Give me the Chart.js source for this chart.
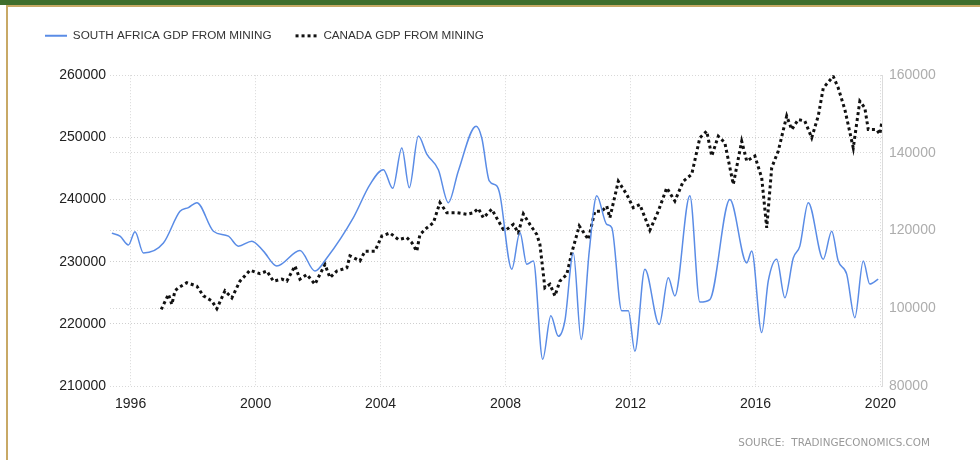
<!DOCTYPE html>
<html>
<head>
<meta charset="utf-8">
<script src="https://cdn.jsdelivr.net/npm/chart.js@4.4.0/dist/chart.umd.min.js"></script>
<style>
body { margin: 0; background: #fff; }
#wrap { position: relative; width: 980px; height: 460px; overflow: hidden; }
#topbar { position: absolute; left: 0; top: 0; width: 980px; height: 5px; background: #3f6e2d; }
#frame { position: absolute; left: 6px; top: 5px; width: 974px; height: 455px; border-left: 2px solid #c8a966; border-top: 2px solid #c8a966; box-sizing: border-box; }
#chart { position: absolute; left: 0; top: 0; }
</style>
</head>
<body>
<div id="wrap">
  <div id="topbar"></div>
  <div id="frame"></div>
  <canvas id="chart" width="980" height="460"></canvas>
</div>
<script>
// south africa, quarterly-ish, left axis
const saYears = [1995.40, 1995.66, 1995.93, 1996.14, 1996.41, 1997.05, 1997.58, 1997.85, 1998.12, 1998.65,
  1999.13, 1999.45, 1999.88, 2000.25, 2000.68, 2001.42, 2001.90, 2002.28, 2003.13, 2003.66,
  2004.09, 2004.39, 2004.68, 2004.92, 2005.21, 2005.48, 2005.85, 2006.17, 2006.49, 2007.06,
  2007.24, 2007.48, 2007.72, 2007.82, 2008.20, 2008.46, 2008.68, 2008.89, 2009.19, 2009.45,
  2009.69, 2009.90, 2010.17, 2010.42, 2010.68, 2010.92, 2011.24, 2011.40, 2011.72, 2011.93,
  2012.14, 2012.46, 2012.92, 2013.21, 2013.42, 2013.90, 2014.22, 2014.54, 2015.18, 2015.72,
  2015.88, 2016.20, 2016.41, 2016.68, 2016.94, 2017.21, 2017.42, 2017.69, 2018.17, 2018.44,
  2018.65, 2018.92, 2019.18, 2019.45, 2019.66, 2019.93];
const saValues = [234600, 234100, 232700, 234800, 231400, 233000, 238100, 238700, 239500, 234900,
  234100, 232500, 233300, 231700, 229300, 231800, 228500, 230600, 237100, 242400,
  244800, 241800, 248300, 241900, 250200, 247300, 244800, 239500, 244600, 251800,
  249900, 243000, 242200, 240800, 228800, 234700, 229600, 230100, 214300, 221300,
  218000, 220500, 231400, 217500, 231700, 240600, 236000, 235500, 222100, 222100,
  215600, 228800, 219900, 227400, 224500, 240600, 223500, 223900, 240000, 229800,
  231700, 218600, 226900, 230400, 224200, 230600, 232500, 239500, 230400, 234900,
  230100, 228000, 221000, 230100, 226400, 227200];

// canada, right axis
const caYears = [1996.98, 1997.21, 1997.32, 1997.42, 1997.53, 1997.80, 1998.12, 1998.33, 1998.60, 1998.76,
  1999.02, 1999.24, 1999.50, 1999.82, 2000.14, 2000.36, 2000.57, 2000.84, 2001.00, 2001.26,
  2001.42, 2001.64, 2001.90, 2002.22, 2002.38, 2002.60, 2002.92, 2003.02, 2003.34, 2003.50,
  2003.82, 2004.04, 2004.30, 2004.57, 2004.84, 2005.00, 2005.16, 2005.26, 2005.48, 2005.69,
  2005.90, 2006.12, 2006.44, 2006.76, 2006.97, 2007.13, 2007.29, 2007.56, 2007.77, 2007.93,
  2008.04, 2008.25, 2008.41, 2008.57, 2008.78, 2009.00, 2009.10, 2009.26, 2009.42, 2009.58,
  2009.74, 2009.96, 2010.12, 2010.36, 2010.65, 2010.86, 2011.08, 2011.24, 2011.34, 2011.61,
  2011.88, 2012.09, 2012.30, 2012.62, 2012.89, 2013.16, 2013.42, 2013.69, 2013.96, 2014.22,
  2014.44, 2014.60, 2014.81, 2015.02, 2015.29, 2015.56, 2015.72, 2015.98, 2016.20, 2016.36,
  2016.52, 2016.73, 2017.00, 2017.16, 2017.37, 2017.58, 2017.80, 2018.01, 2018.17, 2018.49,
  2018.65, 2018.86, 2019.13, 2019.34, 2019.50, 2019.61, 2019.88, 2019.98, 2020.04];
const caValues = [99700, 103600, 101000, 104500, 105300, 106600, 105700, 103200, 101900, 99900,
  104500, 102700, 107000, 109800, 108900, 109600, 107000, 107500, 107000, 110900,
  107500, 108700, 106200, 111300, 107900, 109600, 110400, 113500, 112200, 114700,
  114700, 118600, 119400, 117700, 118200, 116900, 114700, 119000, 120700, 122000,
  127200, 124600, 124600, 124200, 124600, 125700, 123300, 125500, 122500, 120300,
  120300, 121600, 119400, 124300, 121600, 119000, 116500, 105300, 106200, 103200,
  107000, 108700, 114300, 121200, 117700, 125000, 125000, 126300, 123300, 132700,
  129300, 125900, 126700, 120100, 125000, 131000, 127600, 132700, 134500, 143900,
  145600, 139200, 144300, 142600, 131900, 143000, 137900, 139200, 133600, 120700,
  136200, 140500, 149500, 146000, 148600, 148200, 143900, 149500, 156700, 159700,
  156700, 151200, 141300, 153300, 151600, 146000, 146000, 144800, 147700];

const xTickYears = [1996, 2000, 2004, 2008, 2012, 2016, 2020];
const seriesNames = ['SOUTH AFRICA GDP FROM MINING', 'CANADA GDP FROM MINING'];
const sourceText = 'SOURCE:  TRADINGECONOMICS.COM';

function toPoints(xs, ys) {
    return xs.map((x, i) => ({x: x, y: ys[i]}));
}

const labelFont = {family: 'Liberation Sans', size: 14};

// let the right axis labels run past the axis box instead of being clipped
const unclipRight = {
    id: 'unclipRight',
    afterLayout(chart) { chart.scales.y1.right = chart.width; }
};

const ctx = document.getElementById('chart').getContext('2d');
const chart = new Chart(ctx, {
    type: 'line',
    data: { datasets: [
        { label: seriesNames[0], data: toPoints(saYears, saValues), yAxisID: 'y', borderColor: '#5a8ce6', borderWidth: 1.5,
          pointRadius: 0, cubicInterpolationMode: 'monotone', pointStyle: 'line', fill: false },
        { label: seriesNames[1], data: toPoints(caYears, caValues), yAxisID: 'y1', borderColor: '#111', borderWidth: 3,
          borderDash: [3, 3], pointRadius: 0, tension: 0, pointStyle: 'line', fill: false }
    ]},
    options: {
        responsive: false, animation: false,
        layout: { padding: { left: 21, right: 50, top: 6, bottom: 0 } },
        plugins: {
            legend: { position: 'top', align: 'start',
                labels: { usePointStyle: true, pointStyleWidth: 22, padding: 24, color: '#333',
                          font: {family: 'Liberation Sans', size: 11.7},
                          generateLabels: c => {
                              const items = Chart.defaults.plugins.legend.labels.generateLabels(c);
                              items.forEach((it, i) => {
                                  const ds = c.data.datasets[i];
                                  it.lineDash = ds.borderDash || [];
                                  it.lineWidth = i === 0 ? 2 : 3;
                                  it.strokeStyle = ds.borderColor;
                              });
                              return items;
                          } } },
            // empty title only used as a spacer between legend and plot
            title: { display: true, text: '', position: 'top', weight: 500, font: {size: 10}, padding: {top: 0, bottom: 11.5} },
            subtitle: { display: true, text: sourceText, position: 'bottom', align: 'end', color: '#999',
                        font: {family: 'DejaVu Sans', size: 10.4}, padding: {top: 3, bottom: 10} },
            tooltip: { enabled: false }
        },
        scales: {
            x: { type: 'linear', min: 1995.34, max: 2020.05,
                 afterBuildTicks: s => { s.ticks = xTickYears.map(v => ({value: v})); },
                 afterFit: s => { s.height = 48.5; },
                 ticks: { callback: v => String(v), color: '#222', font: labelFont, padding: 10, autoSkip: false, maxRotation: 0 },
                 grid: { color: '#d8d8d8', drawTicks: false },
                 border: { display: false, dash: [1, 2] } },
            y: { position: 'left', min: 210000, max: 260000,
                 afterFit: s => { s.width = 89; },
                 ticks: { stepSize: 10000, callback: v => String(v), color: '#222', font: labelFont, padding: 4 },
                 grid: { color: '#cfcfcf', drawTicks: false },
                 border: { display: false, dash: [1, 2] } },
            y1: { position: 'right', min: 80000, max: 160000,
                  afterFit: s => { s.width = 48; },
                  ticks: { stepSize: 20000, callback: v => String(v), color: '#adadad', font: labelFont, padding: 7 },
                  grid: { color: '#d8d8d8', drawTicks: false },
                  border: { display: true, color: '#dcdcdc', dash: [1, 2] } }
        }
    },
    plugins: [unclipRight]
});
</script>
</body>
</html>
